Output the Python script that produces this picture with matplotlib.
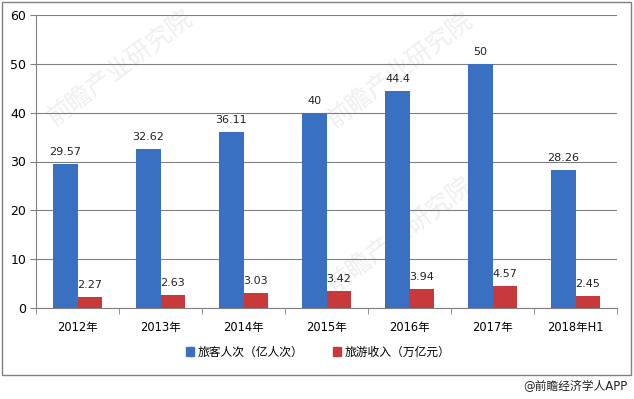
import matplotlib
matplotlib.use("Agg")
import matplotlib.pyplot as plt
from matplotlib.patches import Rectangle, Patch
import numpy as np

plt.rcParams['font.family'] = ['DejaVu Sans', 'Noto Sans CJK SC']

categories = ["2012年", "2013年", "2014年", "2015年", "2016年", "2017年", "2018年H1"]
passengers = [29.57, 32.62, 36.11, 40, 44.4, 50, 28.26]
revenue = [2.27, 2.63, 3.03, 3.42, 3.94, 4.57, 2.45]
passenger_labels = ["29.57", "32.62", "36.11", "40", "44.4", "50", "28.26"]
revenue_labels = ["2.27", "2.63", "3.03", "3.42", "3.94", "4.57", "2.45"]
series_names = ["旅客人次（亿人次）", "旅游收入（万亿元）"]

blue = "#3a70c2"
red = "#c7393a"

fig = plt.figure(figsize=(6.34, 3.99), dpi=100)
ax = fig.add_axes([36/634, 1-308/399, (617-36)/634, (308-15)/399])
ax.patch.set_alpha(0)

x = np.arange(len(categories))
w = 0.29
ax.bar(x - w/2, passengers, w, color=blue, zorder=3)
ax.bar(x + w/2, revenue, w, color=red, zorder=3)

for xi, v, lab in zip(x, passengers, passenger_labels):
    ax.annotate(lab, (xi - w/2, v), xytext=(0, 5), textcoords="offset points",
                ha="center", va="bottom", fontsize=8, color="#222222", zorder=4)
for xi, v, lab in zip(x, revenue, revenue_labels):
    ax.annotate(lab, (xi + w/2, v), xytext=(0, 5), textcoords="offset points",
                ha="center", va="bottom", fontsize=8, color="#222222", zorder=4)

ax.set_xlim(-0.5, len(categories) - 0.5)
ax.set_ylim(0, 60)
ax.set_yticks(np.arange(0, 61, 10))
ax.yaxis.grid(True, color="#808080", linewidth=0.8, zorder=0)
ax.set_xticks(x)
ax.set_xticklabels(categories, fontsize=8.3)
ax.set_xticks(np.arange(-0.5, len(categories), 1), minor=True)
ax.tick_params(axis="x", which="major", length=0, pad=9)
ax.tick_params(axis="x", which="minor", length=4, color="#808080")
ax.tick_params(axis="y", length=4, color="#808080", labelsize=9, pad=3)
for s in ["top", "right"]:
    ax.spines[s].set_visible(False)
ax.spines["left"].set_color("#808080")
ax.spines["bottom"].set_color("#808080")

# faint watermarks behind the chart
for (wx, wy) in [(120, 68), (400, 70), (400, 235)]:
    fig.text(wx/634, 1-wy/399, "前瞻产业研究院", rotation=37, fontsize=18, color="#efefef",
             ha="center", va="center", zorder=-1)

handles = [Patch(color=blue), Patch(color=red)]
fig.legend(handles, series_names, loc="center", bbox_to_anchor=(318/634, 1-352/399),
           ncol=2, frameon=False, fontsize=8.5, handlelength=0.7, handleheight=0.7,
           handletextpad=0.3, columnspacing=2.5)

fig.patches.append(Rectangle((2/634, 1-375/399), 629/634, 373/399, transform=fig.transFigure,
                             fill=False, edgecolor="#808080", linewidth=1))
fig.text(628/634, 1-387/399, "@前瞻经济学人APP", ha="right", va="center", fontsize=8.5, color="#222222")

fig.savefig("out.png", dpi=100)
